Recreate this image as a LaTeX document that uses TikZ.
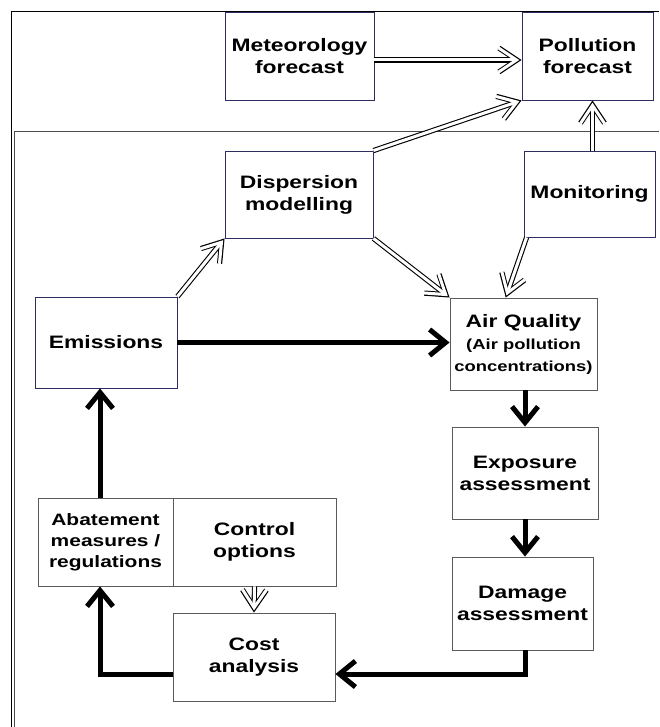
\documentclass[tikz,border=0pt]{standalone}
\usepackage{fontspec}
\setmainfont{Liberation Sans}[FakeStretch=1.27]
\usetikzlibrary{arrows.meta, positioning, calc}
\definecolor{boxnavy}{RGB}{45,45,95}
\definecolor{boxgrey}{RGB}{90,90,90}
\newcommand\subfont{\fontsize{14.5}{17.5}\selectfont}

\begin{document}
\begin{tikzpicture}[x=1pt, y=-1pt,
  box/.style={draw=boxgrey, line width=0.9pt, fill=white, inner sep=2pt,
    align=center, font=\fontsize{18}{22}\selectfont\bfseries},
  topbox/.style={box, draw=boxnavy},
  flow/.style={line width=5pt, -{Straight Barb[length=16pt, width=26pt, sharp]}},
  feed/.style={line width=3pt, white,
    -{Straight Barb[length=18pt, width=24pt, sharp]}, shorten >=2.2pt,
    preaction={draw, black, line width=5.2pt, shorten >=0pt}}]

  \useasboundingbox (0,0) rectangle (659,727);

  % --- Frames ---
  \draw[line width=1.4pt] (11.5,727) -- (11.5,11.5) -- (659,11.5);
  \draw[line width=1pt, black!70] (14,727) -- (14,132) -- (659,132);

  % --- Forecast row ---
  \node[topbox, minimum width=149pt, minimum height=88pt] (met)
    at (299.5,56) {Meteorology\\forecast};
  \node[topbox, minimum width=131pt, minimum height=88pt] (poll)
    at (587.5,56) {Pollution\\forecast};

  % --- Modelling and monitoring ---
  \node[topbox, minimum width=148pt, minimum height=87pt] (disp)
    at (299,194.5) {Dispersion\\modelling};
  \node[topbox, minimum width=131pt, minimum height=86pt] (mon)
    at (589.5,194) {Monitoring};

  % --- Main chain ---
  \node[topbox, minimum width=142pt, minimum height=91pt] (emis)
    at (106,342.5) {Emissions};
  \node[box, minimum width=147pt, minimum height=92pt] (airq)
    at (523.5,344) {Air Quality\\\subfont (Air pollution\\\subfont concentrations)};
  \node[box, minimum width=146pt, minimum height=92pt] (expo)
    at (525,473) {Exposure\\assessment};
  \node[box, minimum width=141pt, minimum height=93pt] (dam)
    at (522.5,603.5) {Damage\\assessment};

  % --- Control side ---
  \node[box, minimum width=135pt, minimum height=88pt,
    font=\fontsize{16.5}{21}\selectfont\bfseries] (abat)
    at (105.5,542) {Abatement\\measures /\\regulations};
  \node[box, minimum width=163pt, minimum height=88pt] (ctrl)
    at (254.5,542) {Control\\options};
  \node[box, minimum width=162pt, minimum height=88pt] (cost)
    at (254,657) {Cost\\analysis};

  % --- Open (double) arrows ---
  \draw[feed] ($(met.east)+(0,4)$) -- ($(poll.west)+(0,4)$);
  \draw[feed] (disp.north east) -- (poll.south west);
  \draw[feed] ($(mon.north)+(3,0)$) -- ($(poll.south)+(5,0)$);
  \draw[feed] (emis.north east) -- (disp.south west);
  \draw[feed] (disp.south east) -- (airq.north west);
  \draw[feed] ($(mon.south west)+(3,0)$)
    -- ($(airq.north west)!0.38!(airq.north east)$);
  \draw[feed] (ctrl.south) -- (cost.north);

  % --- Thick loop ---
  \draw[flow] (emis.east) -- (emis.east -| airq.west);
  \draw[flow] (airq.south -| expo.north) -- (expo.north);
  \draw[flow] (expo.south) -- (expo.south |- dam.north);
  \draw[flow] (dam.south -| expo.south) |- ($(cost.east)+(0,17)$);
  \draw[flow] ($(cost.west)+(0,17)$) -| ($(abat.south)+(-5.5,0)$);
  \draw[flow] ($(abat.north)+(-5.5,0)$) -- ($(emis.south)+(-6,0)$);

\end{tikzpicture}
\end{document}
